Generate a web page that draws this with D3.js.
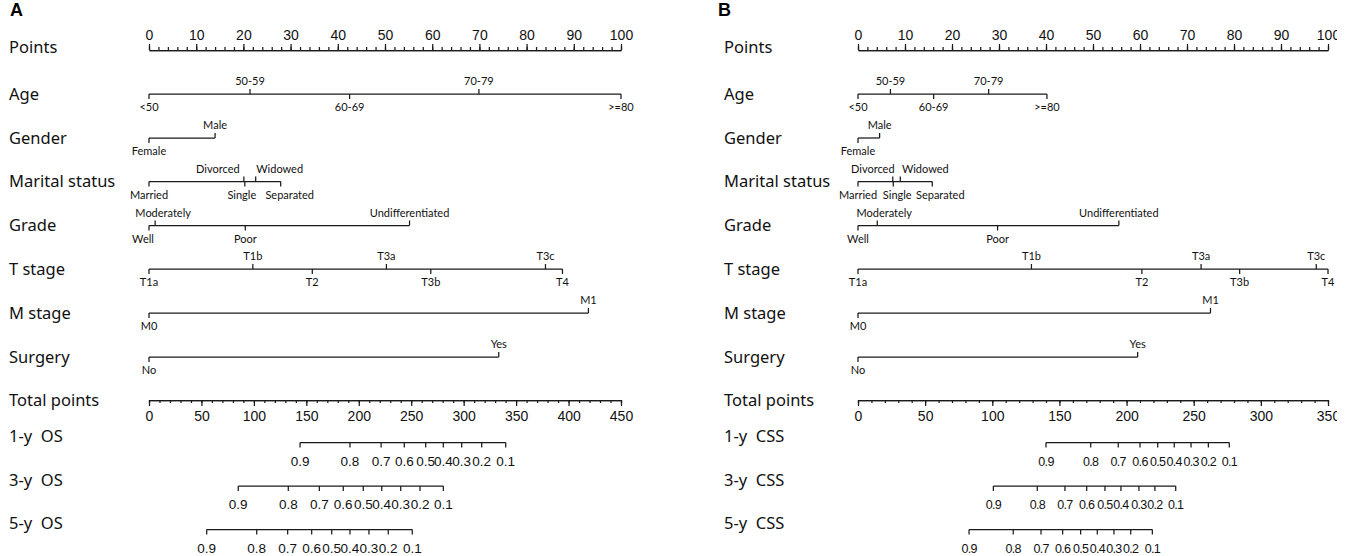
<!DOCTYPE html>
<html><head><meta charset="utf-8">
<script src="https://cdn.jsdelivr.net/npm/d3@7"></script>
<style>html,body{margin:0;padding:0;background:#fff;} svg{display:block;}</style>
</head><body><svg id="chart" width="1354" height="556"></svg>
<script>
// ---------------- DATA ----------------
const pointMajorTicks = [0,10,20,30,40,50,60,70,80,90,100];
const pointMinorTicks = d3.range(0, 101, 2);
const totalMajorOS = [0,50,100,150,200,250,300,350,400,450];
const totalMinorOS = d3.range(0, 451, 10);
const totalMajorCSS = [0,50,100,150,200,250,300,350];
const totalMinorCSS = d3.range(0, 351, 10);

const ageLevels = ["<50","50-59","60-69","70-79",">=80"];
const genderLevels = ["Female","Male"];
const maritalLevels = ["Married","Divorced","Single","Widowed","Separated"];
const gradeLevels = ["Well","Moderately","Poor","Undifferentiated"];
const tLevels = ["T1a","T1b","T2","T3a","T3b","T3c","T4"];
const mLevels = ["M0","M1"];
const surgeryLevels = ["No","Yes"];

// Panel A (OS) points per level
const agePtsOS = [0, 21.4, 42.5, 69.9, 100];
const genderPtsOS = [0, 14.0];
const maritalPtsOS = [0, 20.1, 20.3, 22.6, 27.9];
const gradePtsOS = [0, 1.3, 20.4, 55.2];
const tPtsOS = [0, 22.0, 34.6, 50.3, 59.7, 84.0, 87.6];
const mPtsOS = [0, 93.1];
const surgeryPtsOS = [0, 74.1];

// Panel B (CSS) points per level
const agePtsCSS = [0, 6.9, 16.1, 27.8, 40.2];
const genderPtsCSS = [0, 4.6];
const maritalPtsCSS = [0, 7.4, 7.5, 9.0, 15.8];
const gradePtsCSS = [0, 4.1, 29.7, 55.5];
const tPtsCSS = [0, 36.9, 60.4, 73.0, 81.2, 97.5, 100];
const mPtsCSS = [0, 75.0];
const surgeryPtsCSS = [0, 59.5];

// Survival probability scales (total points at each probability)
const probLabels = ["0.9","0.8","0.7","0.6","0.5","0.4","0.3","0.2","0.1"];
const os1Pts = [144.0, 191.6, 221.3, 243.4, 263.8, 280.6, 298.1, 317.2, 340.1];
const os3Pts = [85.1, 132.8, 162.4, 185.2, 204.3, 221.9, 240.0, 258.4, 280.6];
const os5Pts = [55.0, 102.7, 132.2, 155.1, 174.2, 191.6, 209.7, 228.1, 251.0];
const css1Pts = [140.0, 173.3, 193.8, 210.0, 223.2, 235.5, 248.0, 260.9, 276.5];
const css3Pts = [100.8, 133.5, 154.1, 170.3, 183.9, 195.8, 209.2, 221.1, 236.6];
const css5Pts = [82.7, 115.6, 136.3, 152.4, 165.8, 178.2, 190.6, 203.1, 219.2];

// ---------------- LAYOUT ----------------
const rowY = [50, 94, 138, 181.5, 225.5, 269, 313, 357, 400, 442.5, 486, 529.5];
const panels = [
  { letter:"A", letterX:10, titleX:9, x0:149, x1:621, totalMax:450,
    totalMajor: totalMajorOS, totalMinor: totalMinorOS,
    vars:[["Age",ageLevels,agePtsOS],["Gender",genderLevels,genderPtsOS],
          ["Marital status",maritalLevels,maritalPtsOS],["Grade",gradeLevels,gradePtsOS],
          ["T stage",tLevels,tPtsOS],["M stage",mLevels,mPtsOS],["Surgery",surgeryLevels,surgeryPtsOS]],
    probs:[["1-y  OS",os1Pts],["3-y  OS",os3Pts],["5-y  OS",os5Pts]],
    probFont:13.5, probSpacing:0,
    shift:{Divorced:-26, Widowed:24, Single:-3, Separated:9, Moderately:8, Well:-6},
    clipX:null },
  { letter:"B", letterX:718, titleX:724, x0:858, x1:1328, totalMax:350,
    totalMajor: totalMajorCSS, totalMinor: totalMinorCSS,
    vars:[["Age",ageLevels,agePtsCSS],["Gender",genderLevels,genderPtsCSS],
          ["Marital status",maritalLevels,maritalPtsCSS],["Grade",gradeLevels,gradePtsCSS],
          ["T stage",tLevels,tPtsCSS],["M stage",mLevels,mPtsCSS],["Surgery",surgeryLevels,surgeryPtsCSS]],
    probs:[["1-y  CSS",css1Pts],["3-y  CSS",css3Pts],["5-y  CSS",css5Pts]],
    probFont:12.5, probSpacing:-0.7,
    shift:{Divorced:-20, Widowed:25, Single:4, Separated:8, Moderately:7},
    clipX:1337 }
];

const INK = "#1a1a1a";
const SW = 1.25;
const titleFont = "'Noto Sans', 'Open Sans', sans-serif";
const labFont = "Lato, 'Noto Sans', sans-serif";
const numFont = "'Liberation Sans', Arial, sans-serif";

const svg = d3.select("#chart");
const defs = svg.append("defs");
defs.append("clipPath").attr("id","clipB").append("rect")
  .attr("x",700).attr("y",0).attr("width",1337-700).attr("height",556);

panels.forEach((p, pi) => {
  const g = svg.append("g");
  if (p.clipX) g.attr("clip-path","url(#clipB)");
  const xp = d3.scaleLinear().domain([0,100]).range([p.x0,p.x1]);
  const xt = d3.scaleLinear().domain([0,p.totalMax]).range([p.x0,p.x1]);

  // panel letter
  g.append("text").attr("x",p.letterX).attr("y",16)
    .attr("font-family",numFont).attr("font-weight","bold").attr("font-size",18)
    .attr("fill","#000").text(p.letter);

  const title = (txt, y, dy) => g.append("text").attr("x",p.titleX).attr("y",y + (dy||0))
    .attr("dy","0.36em").attr("font-family",titleFont).attr("font-size",16.5)
    .attr("fill","#111").style("white-space","pre").text(txt);

  // ---- Points axis ----
  title("Points", rowY[0], -3);
  const axMinor = d3.axisTop(xp).tickValues(pointMinorTicks).tickSize(3).tickSizeOuter(0).tickFormat("");
  const axMajor = d3.axisTop(xp).tickValues(pointMajorTicks).tickSize(6).tickSizeOuter(0).tickPadding(4);
  [axMinor, axMajor].forEach(ax => {
    const a = g.append("g").attr("transform",`translate(0,${rowY[0]})`).call(ax);
    a.select(".domain").attr("stroke",INK).attr("stroke-width",SW);
    a.selectAll(".tick line").attr("stroke",INK).attr("stroke-width",SW);
    a.selectAll(".tick text").attr("font-family",numFont).attr("font-size",14).attr("fill","#111");
  });

  // ---- Variable rows ----
  p.vars.forEach(([name, levels, pts], vi) => {
    const y = rowY[vi+1];
    title(name, y, 0);
    const rg = g.append("g");
    rg.append("line").attr("x1",xp(d3.min(pts))).attr("x2",xp(d3.max(pts)))
      .attr("y1",y).attr("y2",y).attr("stroke",INK).attr("stroke-width",SW);
    levels.forEach((lab, li) => {
      const above = li % 2 === 1;
      const x = xp(pts[li]);
      rg.append("line").attr("x1",x).attr("x2",x).attr("y1",y).attr("y2",above ? y-5 : y+5)
        .attr("stroke",INK).attr("stroke-width",SW);
      rg.append("text").attr("x",x + (p.shift[lab]||0)).attr("y",above ? y-9 : y+17)
        .attr("text-anchor","middle").attr("font-family",labFont).attr("font-size",11)
        .attr("fill","#111").text(lab);
    });
  });

  // ---- Total points axis ----
  const yT = rowY[8];
  title("Total points", yT, 0);
  const tMinor = d3.axisBottom(xt).tickValues(p.totalMinor).tickSize(3).tickSizeOuter(0).tickFormat("");
  const tMajor = d3.axisBottom(xt).tickValues(p.totalMajor).tickSize(6).tickSizeOuter(0).tickPadding(5);
  [tMinor, tMajor].forEach(ax => {
    const a = g.append("g").attr("transform",`translate(0,${yT})`).call(ax);
    a.select(".domain").attr("stroke",INK).attr("stroke-width",SW);
    a.selectAll(".tick line").attr("stroke",INK).attr("stroke-width",SW);
    a.selectAll(".tick text").attr("font-family",numFont).attr("font-size",14).attr("fill","#111");
  });

  // ---- Probability rows ----
  p.probs.forEach(([name, pts], ri) => {
    const y = rowY[9+ri];
    title(name, y, -6);
    const rg = g.append("g");
    rg.append("line").attr("x1",xt(d3.min(pts))).attr("x2",xt(d3.max(pts)))
      .attr("y1",y).attr("y2",y).attr("stroke",INK).attr("stroke-width",SW);
    pts.forEach((v, i) => {
      const x = xt(v);
      rg.append("line").attr("x1",x).attr("x2",x).attr("y1",y).attr("y2",y+5)
        .attr("stroke",INK).attr("stroke-width",SW);
      rg.append("text").attr("x",x).attr("y",y+23).attr("text-anchor","middle")
        .attr("font-family",numFont).attr("font-size",p.probFont)
        .attr("letter-spacing",p.probSpacing).attr("fill","#111").text(probLabels[i]);
    });
  });
});
</script></body></html>
